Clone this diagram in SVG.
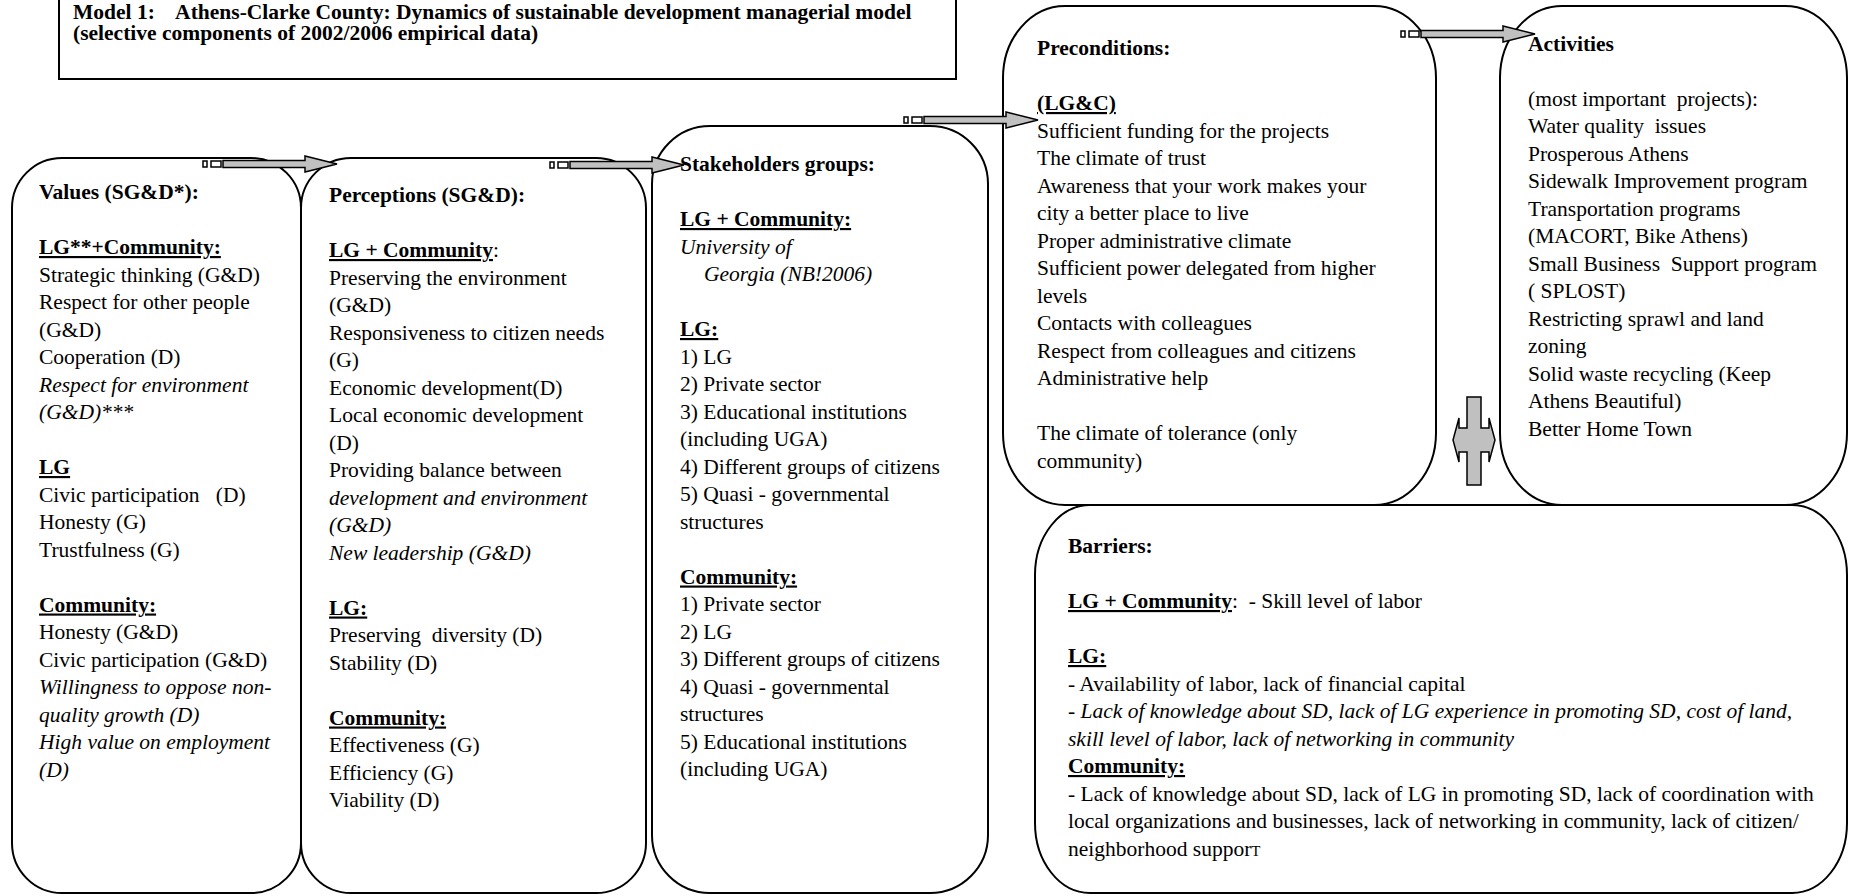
<svg xmlns="http://www.w3.org/2000/svg" xmlns:xlink="http://www.w3.org/1999/xlink" width="1849" height="896" viewBox="0 0 1849 896">
<style>
.t{font-family:"Liberation Serif","Times New Roman",serif;font-size:21.5px;fill:#000;white-space:pre}
.b{font-weight:bold}
.i{font-style:italic}
.u{text-decoration:underline}
.box{fill:#fff;stroke:#000;stroke-width:2}
.arr{fill:#c0c0c0;stroke:#000;stroke-width:1.5}
.sq{fill:#fff;stroke:#000;stroke-width:1.5}
</style>
<defs>
<g id="arrowShape">
<rect class="sq" x="-134" y="-3" width="4" height="6"/>
<rect class="sq" x="-126" y="-3" width="10" height="6"/>
<polygon class="arr" points="-114,-3.5 -32,-3.5 -32,-8 0,0 -32,8 -32,3.5 -114,3.5"/>
</g>
</defs>
<rect width="1849" height="896" fill="#fff"/>

<g id="title">
<rect x="59" y="-2" width="897" height="81" fill="#fff" stroke="#000" stroke-width="2"/>
<text class="t b" x="73" y="19">Model 1:    Athens-Clarke County: Dynamics of sustainable development managerial model</text>
<text class="t b" x="73" y="40">(selective components of 2002/2006 empirical data)</text>
</g>

<g id="values">
<rect class="box" x="12" y="158" width="289" height="735" rx="50" ry="50"/>
<text class="t b" x="39" y="199">Values (SG&amp;D*):</text>
<text class="t b u" x="39" y="254">LG**+Community:</text>
<text class="t" x="39" y="281.5">Strategic thinking (G&amp;D)</text>
<text class="t" x="39" y="309">Respect for other people</text>
<text class="t" x="39" y="336.5">(G&amp;D)</text>
<text class="t" x="39" y="364">Cooperation (D)</text>
<text class="t i" x="39" y="391.5">Respect for environment</text>
<text class="t i" x="39" y="419">(G&amp;D)***</text>
<text class="t b u" x="39" y="474">LG</text>
<text class="t" x="39" y="501.5">Civic participation   (D)</text>
<text class="t" x="39" y="529">Honesty (G)</text>
<text class="t" x="39" y="556.5">Trustfulness (G)</text>
<text class="t b u" x="39" y="611.5">Community:</text>
<text class="t" x="39" y="639">Honesty (G&amp;D)</text>
<text class="t" x="39" y="666.5">Civic participation (G&amp;D)</text>
<text class="t i" x="39" y="694">Willingness to oppose non-</text>
<text class="t i" x="39" y="721.5">quality growth (D)</text>
<text class="t i" x="39" y="749">High value on employment</text>
<text class="t i" x="39" y="776.5">(D)</text>
</g>

<g id="perceptions">
<rect class="box" x="301" y="158" width="345" height="735" rx="50" ry="50"/>
<text class="t b" x="329" y="202">Perceptions (SG&amp;D):</text>
<text class="t" x="329" y="257"><tspan class="b u">LG + Community</tspan>:</text>
<text class="t" x="329" y="284.5">Preserving the environment</text>
<text class="t" x="329" y="312">(G&amp;D)</text>
<text class="t" x="329" y="339.5">Responsiveness to citizen needs</text>
<text class="t" x="329" y="367">(G)</text>
<text class="t" x="329" y="394.5">Economic development(D)</text>
<text class="t" x="329" y="422">Local economic development</text>
<text class="t" x="329" y="449.5">(D)</text>
<text class="t" x="329" y="477">Providing balance between</text>
<text class="t i" x="329" y="504.5">development and environment</text>
<text class="t i" x="329" y="532">(G&amp;D)</text>
<text class="t i" x="329" y="559.5">New leadership (G&amp;D)</text>
<text class="t b u" x="329" y="614.5">LG:</text>
<text class="t" x="329" y="642">Preserving  diversity (D)</text>
<text class="t" x="329" y="669.5">Stability (D)</text>
<text class="t b u" x="329" y="724.5">Community:</text>
<text class="t" x="329" y="752">Effectiveness (G)</text>
<text class="t" x="329" y="779.5">Efficiency (G)</text>
<text class="t" x="329" y="807">Viability (D)</text>
</g>

<g id="stakeholders">
<rect class="box" x="652" y="126" width="336" height="767" rx="58" ry="58"/>
<text class="t b" x="680" y="171">Stakeholders groups:</text>
<text class="t b u" x="680" y="226">LG + Community:</text>
<text class="t i" x="680" y="253.5">University of</text>
<text class="t i" x="704" y="281">Georgia (NB!2006)</text>
<text class="t b u" x="680" y="336">LG:</text>
<text class="t" x="680" y="363.5">1) LG</text>
<text class="t" x="680" y="391">2) Private sector</text>
<text class="t" x="680" y="418.5">3) Educational institutions</text>
<text class="t" x="680" y="446">(including UGA)</text>
<text class="t" x="680" y="473.5">4) Different groups of citizens</text>
<text class="t" x="680" y="501">5) Quasi - governmental</text>
<text class="t" x="680" y="528.5">structures</text>
<text class="t b u" x="680" y="583.5">Community:</text>
<text class="t" x="680" y="611">1) Private sector</text>
<text class="t" x="680" y="638.5">2) LG</text>
<text class="t" x="680" y="666">3) Different groups of citizens</text>
<text class="t" x="680" y="693.5">4) Quasi - governmental</text>
<text class="t" x="680" y="721">structures</text>
<text class="t" x="680" y="748.5">5) Educational institutions</text>
<text class="t" x="680" y="776">(including UGA)</text>
</g>

<g id="preconditions">
<rect class="box" x="1003" y="6" width="433" height="499" rx="62" ry="72"/>
<text class="t b" x="1037" y="55">Preconditions:</text>
<text class="t b u" x="1037" y="110">(LG&amp;C)</text>
<text class="t" x="1037" y="137.5">Sufficient funding for the projects</text>
<text class="t" x="1037" y="165">The climate of trust</text>
<text class="t" x="1037" y="192.5">Awareness that your work makes your</text>
<text class="t" x="1037" y="220">city a better place to live</text>
<text class="t" x="1037" y="247.5">Proper administrative climate</text>
<text class="t" x="1037" y="275">Sufficient power delegated from higher</text>
<text class="t" x="1037" y="302.5">levels</text>
<text class="t" x="1037" y="330">Contacts with colleagues</text>
<text class="t" x="1037" y="357.5">Respect from colleagues and citizens</text>
<text class="t" x="1037" y="385">Administrative help</text>
<text class="t" x="1037" y="440">The climate of tolerance (only</text>
<text class="t" x="1037" y="467.5">community)</text>
</g>

<g id="activities">
<rect class="box" x="1500" y="6" width="347" height="499" rx="62" ry="72"/>
<text class="t b" x="1528" y="50.5">Activities</text>
<text class="t" x="1528" y="105.5">(most important  projects):</text>
<text class="t" x="1528" y="133">Water quality  issues</text>
<text class="t" x="1528" y="160.5">Prosperous Athens</text>
<text class="t" x="1528" y="188">Sidewalk Improvement program</text>
<text class="t" x="1528" y="215.5">Transportation programs</text>
<text class="t" x="1528" y="243">(MACORT, Bike Athens)</text>
<text class="t" x="1528" y="270.5">Small Business  Support program</text>
<text class="t" x="1528" y="298">( SPLOST)</text>
<text class="t" x="1528" y="325.5">Restricting sprawl and land</text>
<text class="t" x="1528" y="353">zoning</text>
<text class="t" x="1528" y="380.5">Solid waste recycling (Keep</text>
<text class="t" x="1528" y="408">Athens Beautiful)</text>
<text class="t" x="1528" y="435.5">Better Home Town</text>
</g>

<g id="barriers">
<rect class="box" x="1035" y="505" width="812" height="388" rx="55" ry="70"/>
<text class="t b" x="1068" y="553">Barriers:</text>
<text class="t" x="1068" y="608"><tspan class="b u">LG + Community</tspan>:  - Skill level of labor</text>
<text class="t b u" x="1068" y="663">LG:</text>
<text class="t" x="1068" y="690.5">- Availability of labor, lack of financial capital</text>
<text class="t i" x="1068" y="718">- Lack of knowledge about SD, lack of LG experience in promoting SD, cost of land,</text>
<text class="t i" x="1068" y="745.5">skill level of labor, lack of networking in community</text>
<text class="t b u" x="1068" y="773">Community:</text>
<text class="t" x="1068" y="800.5">- Lack of knowledge about SD, lack of LG in promoting SD, lack of coordination with</text>
<text class="t" x="1068" y="828">local organizations and businesses, lack of networking in community, lack of citizen/</text>
<text class="t" x="1068" y="855.5">neighborhood suppor<tspan font-size="15px">T</tspan></text>
</g>

<g id="connectors">
<use xlink:href="#arrowShape" href="#arrowShape" transform="translate(337,164)"/>
<use xlink:href="#arrowShape" href="#arrowShape" transform="translate(684,165)"/>
<use xlink:href="#arrowShape" href="#arrowShape" transform="translate(1038,120)"/>
<use xlink:href="#arrowShape" href="#arrowShape" transform="translate(1535,34)"/>
<polygon class="arr" points="1467,397 1481,397 1481,428 1489,428 1489,418 1495,440 1489,462 1489,452 1481,452 1481,485 1467,485 1467,452 1459,452 1459,462 1453,440 1459,418 1459,428 1467,428"/>
</g>
</svg>
